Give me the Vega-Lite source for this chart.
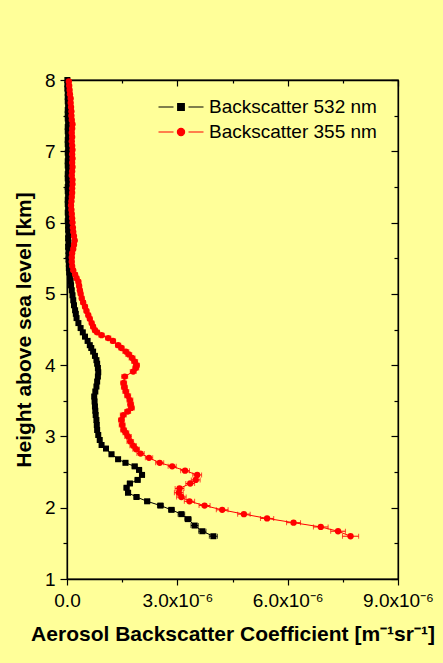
{
  "$schema": "https://vega.github.io/schema/vega-lite/v6.json",
  "autosize": {"type": "none"},
  "padding": {"left": 67, "top": 80, "right": 45, "bottom": 84},
  "width": 331,
  "height": 499,
  "background": "#FFFF99",
  "config": {
    "view": {"stroke": "black", "strokeWidth": 1.3},
    "font": "Liberation Sans",
    "axis": {
      "grid": false,
      "labelFont": "Liberation Sans",
      "labelFontSize": 19,
      "labelColor": "black",
      "titleFont": "Liberation Sans",
      "titleFontSize": 21,
      "titleFontWeight": "bold",
      "titleColor": "black",
      "domainColor": "black",
      "domainWidth": 1.3,
      "tickColor": "black",
      "tickWidth": 1.2
    },
    "legend": {
      "labelFont": "Liberation Sans",
      "labelFontSize": 19,
      "labelColor": "black",
      "labelLimit": 300
    }
  },
  "datasets": {
    "profiles": [
      {"series": "Backscatter 532 nm", "height": 1.60, "beta": 3.98e-6, "err": 0.11e-6},
      {"series": "Backscatter 532 nm", "height": 1.67, "beta": 3.68e-6, "err": 0.10e-6},
      {"series": "Backscatter 532 nm", "height": 1.75, "beta": 3.47e-6, "err": 0.10e-6},
      {"series": "Backscatter 532 nm", "height": 1.84, "beta": 3.29e-6, "err": 0.09e-6},
      {"series": "Backscatter 532 nm", "height": 1.91, "beta": 3.11e-6, "err": 0.09e-6},
      {"series": "Backscatter 532 nm", "height": 1.97, "beta": 2.84e-6, "err": 0.08e-6},
      {"series": "Backscatter 532 nm", "height": 2.03, "beta": 2.54e-6, "err": 0.08e-6},
      {"series": "Backscatter 532 nm", "height": 2.09, "beta": 2.18e-6, "err": 0.07e-6},
      {"series": "Backscatter 532 nm", "height": 2.15, "beta": 1.89e-6, "err": 0.07e-6},
      {"series": "Backscatter 532 nm", "height": 2.21, "beta": 1.66e-6, "err": 0.07e-6},
      {"series": "Backscatter 532 nm", "height": 2.28, "beta": 1.62e-6, "err": 0.07e-6},
      {"series": "Backscatter 532 nm", "height": 2.34, "beta": 1.71e-6, "err": 0.07e-6},
      {"series": "Backscatter 532 nm", "height": 2.39, "beta": 1.92e-6, "err": 0.07e-6},
      {"series": "Backscatter 532 nm", "height": 2.46, "beta": 2.04e-6, "err": 0.07e-6},
      {"series": "Backscatter 532 nm", "height": 2.53, "beta": 1.96e-6, "err": 0.07e-6},
      {"series": "Backscatter 532 nm", "height": 2.58, "beta": 1.84e-6, "err": 0.07e-6},
      {"series": "Backscatter 532 nm", "height": 2.63, "beta": 1.59e-6, "err": 0.06e-6},
      {"series": "Backscatter 532 nm", "height": 2.68, "beta": 1.39e-6, "err": 0.06e-6},
      {"series": "Backscatter 532 nm", "height": 2.75, "beta": 1.21e-6, "err": 0.06e-6},
      {"series": "Backscatter 532 nm", "height": 2.83, "beta": 1.06e-6, "err": 0.06e-6},
      {"series": "Backscatter 532 nm", "height": 2.88, "beta": 0.94e-6, "err": 0.05e-6},
      {"series": "Backscatter 532 nm", "height": 2.95, "beta": 0.89e-6, "err": 0.05e-6},
      {"series": "Backscatter 532 nm", "height": 3.02, "beta": 0.85e-6, "err": 0.05e-6},
      {"series": "Backscatter 532 nm", "height": 3.09, "beta": 0.82e-6, "err": 0.05e-6},
      {"series": "Backscatter 532 nm", "height": 3.16, "beta": 0.81e-6, "err": 0.05e-6},
      {"series": "Backscatter 532 nm", "height": 3.23, "beta": 0.80e-6, "err": 0.05e-6},
      {"series": "Backscatter 532 nm", "height": 3.30, "beta": 0.78e-6, "err": 0.05e-6},
      {"series": "Backscatter 532 nm", "height": 3.36, "beta": 0.77e-6, "err": 0.05e-6},
      {"series": "Backscatter 532 nm", "height": 3.42, "beta": 0.76e-6, "err": 0.05e-6},
      {"series": "Backscatter 532 nm", "height": 3.49, "beta": 0.75e-6, "err": 0.05e-6},
      {"series": "Backscatter 532 nm", "height": 3.56, "beta": 0.74e-6, "err": 0.05e-6},
      {"series": "Backscatter 532 nm", "height": 3.63, "beta": 0.77e-6, "err": 0.05e-6},
      {"series": "Backscatter 532 nm", "height": 3.70, "beta": 0.80e-6, "err": 0.05e-6},
      {"series": "Backscatter 532 nm", "height": 3.77, "beta": 0.82e-6, "err": 0.05e-6},
      {"series": "Backscatter 532 nm", "height": 3.84, "beta": 0.84e-6, "err": 0.05e-6},
      {"series": "Backscatter 532 nm", "height": 3.90, "beta": 0.85e-6, "err": 0.05e-6},
      {"series": "Backscatter 532 nm", "height": 3.96, "beta": 0.84e-6, "err": 0.05e-6},
      {"series": "Backscatter 532 nm", "height": 4.02, "beta": 0.82e-6, "err": 0.05e-6},
      {"series": "Backscatter 532 nm", "height": 4.07, "beta": 0.80e-6, "err": 0.05e-6},
      {"series": "Backscatter 532 nm", "height": 4.13, "beta": 0.76e-6, "err": 0.04e-6},
      {"series": "Backscatter 532 nm", "height": 4.19, "beta": 0.71e-6, "err": 0.04e-6},
      {"series": "Backscatter 532 nm", "height": 4.24, "beta": 0.66e-6, "err": 0.04e-6},
      {"series": "Backscatter 532 nm", "height": 4.28, "beta": 0.62e-6, "err": 0.04e-6},
      {"series": "Backscatter 532 nm", "height": 4.34, "beta": 0.56e-6, "err": 0.04e-6},
      {"series": "Backscatter 532 nm", "height": 4.40, "beta": 0.49e-6, "err": 0.04e-6},
      {"series": "Backscatter 532 nm", "height": 4.46, "beta": 0.43e-6, "err": 0.04e-6},
      {"series": "Backscatter 532 nm", "height": 4.52, "beta": 0.37e-6, "err": 0.04e-6},
      {"series": "Backscatter 532 nm", "height": 4.59, "beta": 0.31e-6, "err": 0.04e-6},
      {"series": "Backscatter 532 nm", "height": 4.66, "beta": 0.26e-6, "err": 0.04e-6},
      {"series": "Backscatter 532 nm", "height": 4.72, "beta": 0.24e-6, "err": 0.04e-6},
      {"series": "Backscatter 532 nm", "height": 4.77, "beta": 0.22e-6, "err": 0.04e-6},
      {"series": "Backscatter 532 nm", "height": 4.84, "beta": 0.19e-6, "err": 0.04e-6},
      {"series": "Backscatter 532 nm", "height": 4.91, "beta": 0.17e-6, "err": 0.04e-6},
      {"series": "Backscatter 532 nm", "height": 4.98, "beta": 0.15e-6, "err": 0.04e-6},
      {"series": "Backscatter 532 nm", "height": 5.05, "beta": 0.13e-6, "err": 0.04e-6},
      {"series": "Backscatter 532 nm", "height": 5.12, "beta": 0.11e-6, "err": 0.04e-6},
      {"series": "Backscatter 532 nm", "height": 5.18, "beta": 0.10e-6, "err": 0.04e-6},
      {"series": "Backscatter 532 nm", "height": 5.24, "beta": 0.08e-6, "err": 0.04e-6},
      {"series": "Backscatter 532 nm", "height": 5.30, "beta": 0.06e-6, "err": 0.03e-6},
      {"series": "Backscatter 532 nm", "height": 5.36, "beta": 0.05e-6, "err": 0.03e-6},
      {"series": "Backscatter 532 nm", "height": 5.42, "beta": 0.05e-6, "err": 0.03e-6},
      {"series": "Backscatter 532 nm", "height": 5.48, "beta": 0.04e-6, "err": 0.03e-6},
      {"series": "Backscatter 532 nm", "height": 5.54, "beta": 0.04e-6, "err": 0.03e-6},
      {"series": "Backscatter 532 nm", "height": 5.60, "beta": 0.04e-6, "err": 0.03e-6},
      {"series": "Backscatter 532 nm", "height": 5.66, "beta": 0.03e-6, "err": 0.03e-6},
      {"series": "Backscatter 532 nm", "height": 5.72, "beta": 0.04e-6, "err": 0.03e-6},
      {"series": "Backscatter 532 nm", "height": 5.78, "beta": 0.03e-6, "err": 0.03e-6},
      {"series": "Backscatter 532 nm", "height": 5.84, "beta": 0.04e-6, "err": 0.03e-6},
      {"series": "Backscatter 532 nm", "height": 5.90, "beta": 0.03e-6, "err": 0.03e-6},
      {"series": "Backscatter 532 nm", "height": 5.96, "beta": 0.03e-6, "err": 0.03e-6},
      {"series": "Backscatter 532 nm", "height": 6.02, "beta": 0.02e-6, "err": 0.03e-6},
      {"series": "Backscatter 532 nm", "height": 6.08, "beta": 0.03e-6, "err": 0.03e-6},
      {"series": "Backscatter 532 nm", "height": 6.14, "beta": 0.02e-6, "err": 0.03e-6},
      {"series": "Backscatter 532 nm", "height": 6.20, "beta": 0.03e-6, "err": 0.03e-6},
      {"series": "Backscatter 532 nm", "height": 6.26, "beta": 0.02e-6, "err": 0.03e-6},
      {"series": "Backscatter 532 nm", "height": 6.32, "beta": 0.02e-6, "err": 0.03e-6},
      {"series": "Backscatter 532 nm", "height": 6.38, "beta": 0.03e-6, "err": 0.03e-6},
      {"series": "Backscatter 532 nm", "height": 6.44, "beta": 0.02e-6, "err": 0.03e-6},
      {"series": "Backscatter 532 nm", "height": 6.50, "beta": 0.02e-6, "err": 0.03e-6},
      {"series": "Backscatter 532 nm", "height": 6.56, "beta": 0.03e-6, "err": 0.03e-6},
      {"series": "Backscatter 532 nm", "height": 6.62, "beta": 0.02e-6, "err": 0.03e-6},
      {"series": "Backscatter 532 nm", "height": 6.68, "beta": 0.02e-6, "err": 0.03e-6},
      {"series": "Backscatter 532 nm", "height": 6.74, "beta": 0.03e-6, "err": 0.03e-6},
      {"series": "Backscatter 532 nm", "height": 6.80, "beta": 0.02e-6, "err": 0.03e-6},
      {"series": "Backscatter 532 nm", "height": 6.86, "beta": 0.02e-6, "err": 0.03e-6},
      {"series": "Backscatter 532 nm", "height": 6.92, "beta": 0.03e-6, "err": 0.03e-6},
      {"series": "Backscatter 532 nm", "height": 6.98, "beta": 0.02e-6, "err": 0.03e-6},
      {"series": "Backscatter 532 nm", "height": 7.04, "beta": 0.03e-6, "err": 0.03e-6},
      {"series": "Backscatter 532 nm", "height": 7.10, "beta": 0.02e-6, "err": 0.03e-6},
      {"series": "Backscatter 532 nm", "height": 7.16, "beta": 0.02e-6, "err": 0.03e-6},
      {"series": "Backscatter 532 nm", "height": 7.22, "beta": 0.03e-6, "err": 0.03e-6},
      {"series": "Backscatter 532 nm", "height": 7.28, "beta": 0.02e-6, "err": 0.03e-6},
      {"series": "Backscatter 532 nm", "height": 7.34, "beta": 0.02e-6, "err": 0.03e-6},
      {"series": "Backscatter 532 nm", "height": 7.40, "beta": 0.03e-6, "err": 0.03e-6},
      {"series": "Backscatter 532 nm", "height": 7.46, "beta": 0.02e-6, "err": 0.03e-6},
      {"series": "Backscatter 532 nm", "height": 7.52, "beta": 0.02e-6, "err": 0.03e-6},
      {"series": "Backscatter 532 nm", "height": 7.58, "beta": 0.02e-6, "err": 0.03e-6},
      {"series": "Backscatter 532 nm", "height": 7.64, "beta": 0.03e-6, "err": 0.03e-6},
      {"series": "Backscatter 532 nm", "height": 7.70, "beta": 0.02e-6, "err": 0.03e-6},
      {"series": "Backscatter 532 nm", "height": 7.76, "beta": 0.02e-6, "err": 0.03e-6},
      {"series": "Backscatter 532 nm", "height": 7.82, "beta": 0.02e-6, "err": 0.03e-6},
      {"series": "Backscatter 532 nm", "height": 7.88, "beta": 0.01e-6, "err": 0.03e-6},
      {"series": "Backscatter 532 nm", "height": 7.94, "beta": 0.01e-6, "err": 0.03e-6},
      {"series": "Backscatter 532 nm", "height": 8.00, "beta": 0.01e-6, "err": 0.03e-6},

      {"series": "Backscatter 355 nm", "height": 1.60, "beta": 7.71e-6, "err": 0.22e-6},
      {"series": "Backscatter 355 nm", "height": 1.67, "beta": 7.37e-6, "err": 0.20e-6},
      {"series": "Backscatter 355 nm", "height": 1.73, "beta": 6.90e-6, "err": 0.20e-6},
      {"series": "Backscatter 355 nm", "height": 1.79, "beta": 6.16e-6, "err": 0.19e-6},
      {"series": "Backscatter 355 nm", "height": 1.85, "beta": 5.44e-6, "err": 0.18e-6},
      {"series": "Backscatter 355 nm", "height": 1.91, "beta": 4.81e-6, "err": 0.17e-6},
      {"series": "Backscatter 355 nm", "height": 1.97, "beta": 4.22e-6, "err": 0.16e-6},
      {"series": "Backscatter 355 nm", "height": 2.03, "beta": 3.74e-6, "err": 0.15e-6},
      {"series": "Backscatter 355 nm", "height": 2.09, "beta": 3.33e-6, "err": 0.14e-6},
      {"series": "Backscatter 355 nm", "height": 2.15, "beta": 3.11e-6, "err": 0.13e-6},
      {"series": "Backscatter 355 nm", "height": 2.21, "beta": 3.04e-6, "err": 0.12e-6},
      {"series": "Backscatter 355 nm", "height": 2.27, "beta": 3.06e-6, "err": 0.12e-6},
      {"series": "Backscatter 355 nm", "height": 2.34, "beta": 3.35e-6, "err": 0.12e-6},
      {"series": "Backscatter 355 nm", "height": 2.39, "beta": 3.50e-6, "err": 0.12e-6},
      {"series": "Backscatter 355 nm", "height": 2.46, "beta": 3.54e-6, "err": 0.12e-6},
      {"series": "Backscatter 355 nm", "height": 2.52, "beta": 3.21e-6, "err": 0.12e-6},
      {"series": "Backscatter 355 nm", "height": 2.58, "beta": 2.86e-6, "err": 0.11e-6},
      {"series": "Backscatter 355 nm", "height": 2.63, "beta": 2.52e-6, "err": 0.11e-6},
      {"series": "Backscatter 355 nm", "height": 2.70, "beta": 2.23e-6, "err": 0.10e-6},
      {"series": "Backscatter 355 nm", "height": 2.76, "beta": 2.00e-6, "err": 0.10e-6},
      {"series": "Backscatter 355 nm", "height": 2.82, "beta": 1.88e-6, "err": 0.09e-6},
      {"series": "Backscatter 355 nm", "height": 2.87, "beta": 1.80e-6, "err": 0.09e-6},
      {"series": "Backscatter 355 nm", "height": 2.93, "beta": 1.72e-6, "err": 0.09e-6},
      {"series": "Backscatter 355 nm", "height": 3.00, "beta": 1.66e-6, "err": 0.09e-6},
      {"series": "Backscatter 355 nm", "height": 3.05, "beta": 1.60e-6, "err": 0.08e-6},
      {"series": "Backscatter 355 nm", "height": 3.09, "beta": 1.54e-6, "err": 0.08e-6},
      {"series": "Backscatter 355 nm", "height": 3.16, "beta": 1.50e-6, "err": 0.08e-6},
      {"series": "Backscatter 355 nm", "height": 3.23, "beta": 1.48e-6, "err": 0.08e-6},
      {"series": "Backscatter 355 nm", "height": 3.30, "beta": 1.53e-6, "err": 0.08e-6},
      {"series": "Backscatter 355 nm", "height": 3.35, "beta": 1.65e-6, "err": 0.08e-6},
      {"series": "Backscatter 355 nm", "height": 3.40, "beta": 1.75e-6, "err": 0.08e-6},
      {"series": "Backscatter 355 nm", "height": 3.45, "beta": 1.73e-6, "err": 0.08e-6},
      {"series": "Backscatter 355 nm", "height": 3.51, "beta": 1.71e-6, "err": 0.08e-6},
      {"series": "Backscatter 355 nm", "height": 3.57, "beta": 1.65e-6, "err": 0.08e-6},
      {"series": "Backscatter 355 nm", "height": 3.63, "beta": 1.60e-6, "err": 0.08e-6},
      {"series": "Backscatter 355 nm", "height": 3.69, "beta": 1.56e-6, "err": 0.08e-6},
      {"series": "Backscatter 355 nm", "height": 3.75, "beta": 1.54e-6, "err": 0.08e-6},
      {"series": "Backscatter 355 nm", "height": 3.84, "beta": 1.57e-6, "err": 0.08e-6},
      {"series": "Backscatter 355 nm", "height": 3.91, "beta": 1.80e-6, "err": 0.08e-6},
      {"series": "Backscatter 355 nm", "height": 3.96, "beta": 1.87e-6, "err": 0.08e-6},
      {"series": "Backscatter 355 nm", "height": 4.00, "beta": 1.89e-6, "err": 0.08e-6},
      {"series": "Backscatter 355 nm", "height": 4.05, "beta": 1.84e-6, "err": 0.08e-6},
      {"series": "Backscatter 355 nm", "height": 4.10, "beta": 1.77e-6, "err": 0.08e-6},
      {"series": "Backscatter 355 nm", "height": 4.15, "beta": 1.68e-6, "err": 0.08e-6},
      {"series": "Backscatter 355 nm", "height": 4.19, "beta": 1.60e-6, "err": 0.08e-6},
      {"series": "Backscatter 355 nm", "height": 4.24, "beta": 1.48e-6, "err": 0.07e-6},
      {"series": "Backscatter 355 nm", "height": 4.28, "beta": 1.39e-6, "err": 0.07e-6},
      {"series": "Backscatter 355 nm", "height": 4.34, "beta": 1.25e-6, "err": 0.07e-6},
      {"series": "Backscatter 355 nm", "height": 4.38, "beta": 1.12e-6, "err": 0.07e-6},
      {"series": "Backscatter 355 nm", "height": 4.42, "beta": 0.94e-6, "err": 0.07e-6},
      {"series": "Backscatter 355 nm", "height": 4.46, "beta": 0.82e-6, "err": 0.06e-6},
      {"series": "Backscatter 355 nm", "height": 4.49, "beta": 0.76e-6, "err": 0.06e-6},
      {"series": "Backscatter 355 nm", "height": 4.54, "beta": 0.71e-6, "err": 0.06e-6},
      {"series": "Backscatter 355 nm", "height": 4.59, "beta": 0.67e-6, "err": 0.06e-6},
      {"series": "Backscatter 355 nm", "height": 4.65, "beta": 0.62e-6, "err": 0.06e-6},
      {"series": "Backscatter 355 nm", "height": 4.70, "beta": 0.58e-6, "err": 0.06e-6},
      {"series": "Backscatter 355 nm", "height": 4.76, "beta": 0.53e-6, "err": 0.06e-6},
      {"series": "Backscatter 355 nm", "height": 4.82, "beta": 0.49e-6, "err": 0.06e-6},
      {"series": "Backscatter 355 nm", "height": 4.88, "beta": 0.44e-6, "err": 0.06e-6},
      {"series": "Backscatter 355 nm", "height": 4.94, "beta": 0.40e-6, "err": 0.06e-6},
      {"series": "Backscatter 355 nm", "height": 5.00, "beta": 0.37e-6, "err": 0.06e-6},
      {"series": "Backscatter 355 nm", "height": 5.05, "beta": 0.35e-6, "err": 0.06e-6},
      {"series": "Backscatter 355 nm", "height": 5.11, "beta": 0.33e-6, "err": 0.06e-6},
      {"series": "Backscatter 355 nm", "height": 5.17, "beta": 0.31e-6, "err": 0.06e-6},
      {"series": "Backscatter 355 nm", "height": 5.22, "beta": 0.26e-6, "err": 0.06e-6},
      {"series": "Backscatter 355 nm", "height": 5.27, "beta": 0.22e-6, "err": 0.06e-6},
      {"series": "Backscatter 355 nm", "height": 5.33, "beta": 0.17e-6, "err": 0.05e-6},
      {"series": "Backscatter 355 nm", "height": 5.39, "beta": 0.14e-6, "err": 0.05e-6},
      {"series": "Backscatter 355 nm", "height": 5.45, "beta": 0.13e-6, "err": 0.05e-6},
      {"series": "Backscatter 355 nm", "height": 5.51, "beta": 0.13e-6, "err": 0.05e-6},
      {"series": "Backscatter 355 nm", "height": 5.57, "beta": 0.14e-6, "err": 0.05e-6},
      {"series": "Backscatter 355 nm", "height": 5.63, "beta": 0.17e-6, "err": 0.05e-6},
      {"series": "Backscatter 355 nm", "height": 5.69, "beta": 0.19e-6, "err": 0.05e-6},
      {"series": "Backscatter 355 nm", "height": 5.75, "beta": 0.21e-6, "err": 0.05e-6},
      {"series": "Backscatter 355 nm", "height": 5.81, "beta": 0.19e-6, "err": 0.05e-6},
      {"series": "Backscatter 355 nm", "height": 5.87, "beta": 0.17e-6, "err": 0.05e-6},
      {"series": "Backscatter 355 nm", "height": 5.93, "beta": 0.16e-6, "err": 0.05e-6},
      {"series": "Backscatter 355 nm", "height": 6.00, "beta": 0.15e-6, "err": 0.05e-6},
      {"series": "Backscatter 355 nm", "height": 6.06, "beta": 0.14e-6, "err": 0.05e-6},
      {"series": "Backscatter 355 nm", "height": 6.12, "beta": 0.13e-6, "err": 0.05e-6},
      {"series": "Backscatter 355 nm", "height": 6.18, "beta": 0.12e-6, "err": 0.05e-6},
      {"series": "Backscatter 355 nm", "height": 6.24, "beta": 0.11e-6, "err": 0.05e-6},
      {"series": "Backscatter 355 nm", "height": 6.30, "beta": 0.12e-6, "err": 0.05e-6},
      {"series": "Backscatter 355 nm", "height": 6.36, "beta": 0.13e-6, "err": 0.05e-6},
      {"series": "Backscatter 355 nm", "height": 6.42, "beta": 0.14e-6, "err": 0.05e-6},
      {"series": "Backscatter 355 nm", "height": 6.48, "beta": 0.14e-6, "err": 0.05e-6},
      {"series": "Backscatter 355 nm", "height": 6.54, "beta": 0.15e-6, "err": 0.05e-6},
      {"series": "Backscatter 355 nm", "height": 6.60, "beta": 0.15e-6, "err": 0.05e-6},
      {"series": "Backscatter 355 nm", "height": 6.66, "beta": 0.13e-6, "err": 0.05e-6},
      {"series": "Backscatter 355 nm", "height": 6.72, "beta": 0.14e-6, "err": 0.05e-6},
      {"series": "Backscatter 355 nm", "height": 6.78, "beta": 0.15e-6, "err": 0.05e-6},
      {"series": "Backscatter 355 nm", "height": 6.84, "beta": 0.14e-6, "err": 0.05e-6},
      {"series": "Backscatter 355 nm", "height": 6.90, "beta": 0.15e-6, "err": 0.05e-6},
      {"series": "Backscatter 355 nm", "height": 6.96, "beta": 0.14e-6, "err": 0.05e-6},
      {"series": "Backscatter 355 nm", "height": 7.02, "beta": 0.15e-6, "err": 0.05e-6},
      {"series": "Backscatter 355 nm", "height": 7.08, "beta": 0.14e-6, "err": 0.05e-6},
      {"series": "Backscatter 355 nm", "height": 7.14, "beta": 0.13e-6, "err": 0.05e-6},
      {"series": "Backscatter 355 nm", "height": 7.20, "beta": 0.14e-6, "err": 0.05e-6},
      {"series": "Backscatter 355 nm", "height": 7.26, "beta": 0.13e-6, "err": 0.05e-6},
      {"series": "Backscatter 355 nm", "height": 7.32, "beta": 0.14e-6, "err": 0.05e-6},
      {"series": "Backscatter 355 nm", "height": 7.38, "beta": 0.15e-6, "err": 0.05e-6},
      {"series": "Backscatter 355 nm", "height": 7.44, "beta": 0.13e-6, "err": 0.05e-6},
      {"series": "Backscatter 355 nm", "height": 7.50, "beta": 0.12e-6, "err": 0.05e-6},
      {"series": "Backscatter 355 nm", "height": 7.56, "beta": 0.12e-6, "err": 0.05e-6},
      {"series": "Backscatter 355 nm", "height": 7.62, "beta": 0.11e-6, "err": 0.05e-6},
      {"series": "Backscatter 355 nm", "height": 7.68, "beta": 0.10e-6, "err": 0.05e-6},
      {"series": "Backscatter 355 nm", "height": 7.74, "beta": 0.10e-6, "err": 0.05e-6},
      {"series": "Backscatter 355 nm", "height": 7.80, "beta": 0.08e-6, "err": 0.05e-6},
      {"series": "Backscatter 355 nm", "height": 7.86, "beta": 0.07e-6, "err": 0.05e-6},
      {"series": "Backscatter 355 nm", "height": 7.92, "beta": 0.06e-6, "err": 0.04e-6},
      {"series": "Backscatter 355 nm", "height": 7.98, "beta": 0.05e-6, "err": 0.04e-6}
    ]
  },
  "data": {"name": "profiles"},
  "layer": [
    {
      "mark": {"type": "errorbar", "ticks": true, "thickness": 1},
      "encoding": {
        "x": {"field": "beta", "type": "quantitative", "scale": {"domain": [0, 9e-6], "nice": false, "zero": false}, "axis": null},
        "xError": {"field": "err"},
        "y": {"field": "height", "type": "quantitative", "scale": {"domain": [1, 8], "nice": false, "zero": false}, "axis": null},
        "color": {"field": "series", "type": "nominal",
          "scale": {"domain": ["Backscatter 532 nm", "Backscatter 355 nm"], "range": ["#000000", "#FF0000"]}}
      }
    },
    {
      "mark": {"type": "line", "strokeWidth": 1},
      "encoding": {
        "x": {
          "field": "beta", "type": "quantitative",
          "title": "Aerosol Backscatter Coefficient [m⁻¹sr⁻¹]",
          "axis": {
            "orient": "bottom",
            "values": [0, 1.5e-6, 3e-6, 4.5e-6, 6e-6, 7.5e-6, 9e-6],
            "labelExpr": "round(datum.value * 1e6) % 3 != 0 ? '' : (datum.value == 0 ? '0.0' : format(datum.value * 1e6, '.1f') + 'x10⁻⁶')",
            "tickSize": {"condition": {"test": "round(datum.value * 1e6) % 3 == 0", "value": 6}, "value": 3},
            "labelPadding": 6,
            "titlePadding": 13,
            "labelFlush": false,
            "labelOverlap": false
          }
        },
        "y": {
          "field": "height", "type": "quantitative",
          "title": "Height above sea level [km]",
          "axis": {
            "orient": "left",
            "values": [1, 1.5, 2, 2.5, 3, 3.5, 4, 4.5, 5, 5.5, 6, 6.5, 7, 7.5, 8],
            "labelExpr": "datum.value % 1 != 0 ? '' : format(datum.value, 'd')",
            "tickSize": {"condition": {"test": "datum.value % 1 == 0", "value": 7}, "value": 4},
            "labelPadding": 5,
            "titlePadding": 10,
            "labelFlush": false,
            "labelOverlap": false
          }
        },
        "order": {"field": "height", "type": "quantitative"},
        "color": {
          "field": "series", "type": "nominal",
          "legend": {
            "title": null,
            "orient": "none",
            "legendX": 103,
            "legendY": 16,
            "symbolSize": 400,
            "labelOffset": 17,
            "rowPadding": 4,
            "padding": 0,
            "labelFontSize": 19,
            "labelLimit": 300,
            "encode": {
              "symbols": {
                "update": {
                  "shape": {"signal": "datum.value == 'Backscatter 532 nm' ? 'M-2.25,0H-0.75M0.75,0H2.25M-0.33,-0.33H0.33V0.33H-0.33Z' : 'M-2.25,0H-0.75M0.75,0H2.25M0.36,0A0.36,0.36 0 1,1 -0.36,0A0.36,0.36 0 1,1 0.36,0Z'"},
                  "fill": {"signal": "datum.value == 'Backscatter 532 nm' ? '#000000' : '#FF0000'"},
                  "stroke": {"signal": "datum.value == 'Backscatter 532 nm' ? '#555555' : '#FF6040'"},
                  "strokeWidth": {"value": 1.2},
                  "opacity": {"value": 1}
                }
              }
            }
          }
        }
      }
    },
    {
      "transform": [{"filter": "datum.series == 'Backscatter 532 nm'"}],
      "mark": {"type": "point", "shape": "square", "filled": true, "opacity": 1, "size": 36},
      "encoding": {
        "x": {"field": "beta", "type": "quantitative", "axis": null},
        "y": {"field": "height", "type": "quantitative", "axis": null},
        "color": {"field": "series", "type": "nominal"}
      }
    },
    {
      "transform": [{"filter": "datum.series == 'Backscatter 355 nm'"}],
      "mark": {"type": "point", "shape": "circle", "filled": true, "opacity": 1, "size": 40},
      "encoding": {
        "x": {"field": "beta", "type": "quantitative", "axis": null},
        "y": {"field": "height", "type": "quantitative", "axis": null},
        "color": {"field": "series", "type": "nominal"}
      }
    },
    {
      "mark": {"type": "point", "opacity": 0},
      "encoding": {
        "x": {
          "field": "beta", "type": "quantitative", "title": null,
          "axis": {
            "orient": "top", "labels": false, "domain": true,
            "values": [0, 1.5e-6, 3e-6, 4.5e-6, 6e-6, 7.5e-6, 9e-6],
            "tickSize": {"condition": {"test": "round(datum.value * 1e6) % 3 == 0", "value": -6}, "value": -3}
          }
        },
        "y": {
          "field": "height", "type": "quantitative", "title": null,
          "axis": {
            "orient": "right", "labels": false, "domain": true,
            "values": [1, 1.5, 2, 2.5, 3, 3.5, 4, 4.5, 5, 5.5, 6, 6.5, 7, 7.5, 8],
            "tickSize": {"condition": {"test": "datum.value % 1 == 0", "value": -7}, "value": -4}
          }
        }
      }
    }
  ],
  "resolve": {"axis": {"x": "independent", "y": "independent"}}
}
